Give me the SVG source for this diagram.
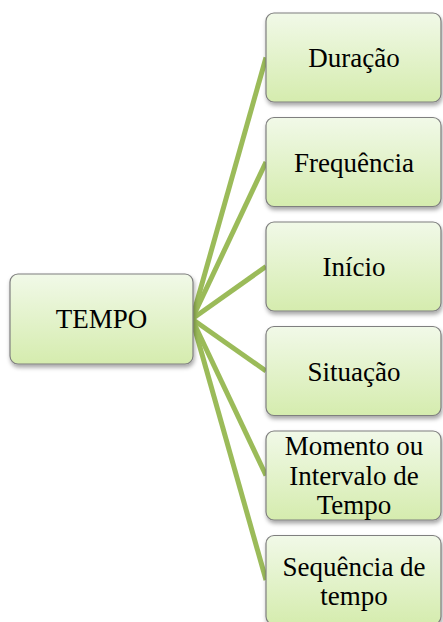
<svg xmlns="http://www.w3.org/2000/svg" width="443" height="622" viewBox="0 0 443 622">
<defs>
<linearGradient id="g" x1="0" y1="0" x2="0" y2="1">
<stop offset="0" stop-color="#f1f9e8"/>
<stop offset="1" stop-color="#d5ecae"/>
</linearGradient>
<filter id="sh" x="-10%" y="-10%" width="125%" height="130%">
<feDropShadow dx="1" dy="3" stdDeviation="2" flood-color="#000" flood-opacity="0.35"/>
</filter>
<style>
.box{fill:url(#g);stroke:#7f7f7f;stroke-width:1.2;filter:url(#sh)}
.t{font-family:"Liberation Serif","Times New Roman",serif;font-size:27px;fill:#000;text-anchor:middle}
.c{stroke:#9bbb59;stroke-width:5;fill:none;stroke-linecap:butt}
</style>
</defs>
<rect width="443" height="622" fill="#fff"/>
<g id="connectors">
<line class="c" x1="192" y1="319" x2="266" y2="57.5"/>
<line class="c" x1="192" y1="319" x2="266" y2="162"/>
<line class="c" x1="192" y1="319" x2="266" y2="266.5"/>
<line class="c" x1="192" y1="319" x2="266" y2="371"/>
<line class="c" x1="192" y1="319" x2="266" y2="475.5"/>
<line class="c" x1="192" y1="319" x2="266" y2="580"/>
</g>
<g id="tempo">
<rect class="box" x="10" y="274" width="183" height="90" rx="8"/>
<text class="t" x="101.5" y="328">TEMPO</text>
</g>
<g id="duracao">
<rect class="box" x="266" y="13" width="175" height="89" rx="8"/>
<text class="t" x="354" y="67">Duração</text>
</g>
<g id="frequencia">
<rect class="box" x="266" y="117.5" width="175" height="89" rx="8"/>
<text class="t" x="354" y="171.5">Frequência</text>
</g>
<g id="inicio">
<rect class="box" x="266" y="222" width="175" height="89" rx="8"/>
<text class="t" x="354" y="276">Início</text>
</g>
<g id="situacao">
<rect class="box" x="266" y="326.5" width="175" height="89" rx="8"/>
<text class="t" x="354" y="380.5">Situação</text>
</g>
<g id="momento">
<rect class="box" x="266" y="431" width="175" height="89" rx="8"/>
<text class="t" x="354" y="455">Momento ou</text>
<text class="t" x="354" y="485">Intervalo de</text>
<text class="t" x="354" y="514">Tempo</text>
</g>
<g id="sequencia">
<rect class="box" x="266" y="535.5" width="175" height="89" rx="8"/>
<text class="t" x="354" y="576">Sequência de</text>
<text class="t" x="354" y="605">tempo</text>
</g>
</svg>
